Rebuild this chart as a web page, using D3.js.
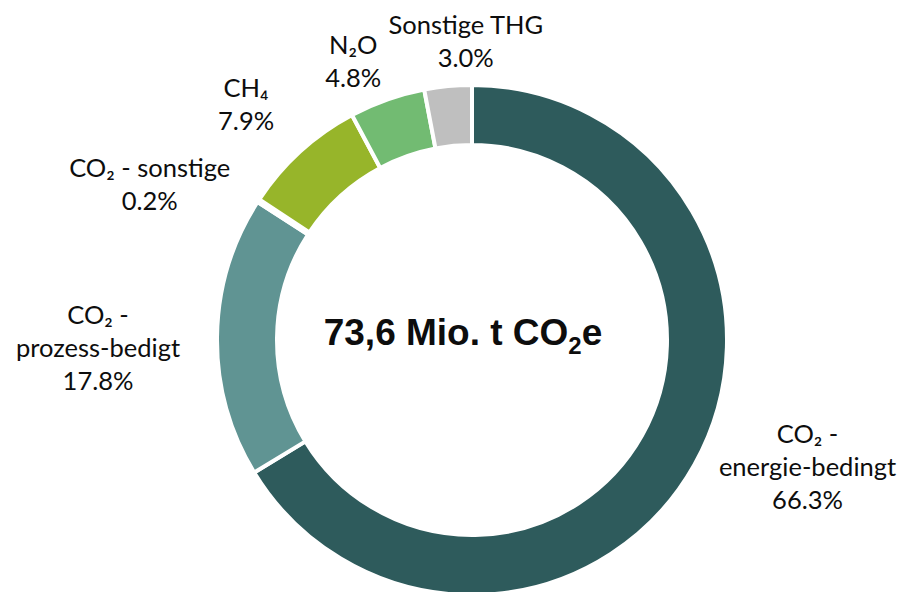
<!DOCTYPE html>
<html>
<head>
<meta charset="utf-8">
<script src="https://cdn.jsdelivr.net/npm/d3@7"></script>
<style>
  body { margin: 0; background: #fff; }
  svg text { fill: #0d0d0d; }
</style>
</head>
<body>
<svg id="chart" width="903" height="592"></svg>
<script>
// shares of total emissions, clockwise from 12 o'clock
var categories = ["CO₂ - energie-bedingt", "CO₂ - prozess-bedigt", "CO₂ - sonstige", "CH₄", "N₂O", "Sonstige THG"];
var shares = [66.3, 17.8, 0.2, 7.9, 4.8, 3.0];
// how each label is broken into lines
var labelLines = [
  ["CO₂ -", "energie-bedingt"],
  ["CO₂ -", "prozess-bedigt"],
  ["CO₂ - sonstige"],
  ["CH₄"],
  ["N₂O"],
  ["Sonstige THG"]
];
var colors = ["#2e5b5c", "#609493", "#8fb03a", "#97b52a", "#72bb72", "#bfbfbf"];

// label nudges off the default spot (mid angle, radius 300)
var labelShift = [[74, -20], [-74, 12], [-71, 8], [-24, -14], [-19, 4], [22, 0]];

var svg = d3.select("#chart");
var cx = 472, cy = 340;
var outerR = 255, innerR = 195;
var lineH = 33;

var data = categories.map(function (c, i) {
  return { name: c, value: shares[i], lines: labelLines[i], color: colors[i], shift: labelShift[i] };
});

var pie = d3.pie()
  .sort(null)
  .value(function (d) { return d.value; });

var arc = d3.arc()
  .innerRadius(innerR)
  .outerRadius(outerR);

var g = svg.append("g")
  .attr("transform", "translate(" + cx + "," + cy + ")");

var arcs = pie(data);

g.selectAll("path")
  .data(arcs)
  .enter()
  .append("path")
  .attr("d", arc)
  .style("fill", function (d) { return d.data.color; })
  .style("stroke", "#fff")
  .style("stroke-width", 4);

//labels: lines of the name plus the percentage
var labels = g.selectAll("g.label")
  .data(arcs)
  .enter()
  .append("g")
  .attr("class", "label")
  .attr("transform", function (d) {
    var a = (d.startAngle + d.endAngle) / 2;
    var x = Math.sin(a) * 300 + d.data.shift[0];
    var y = -Math.cos(a) * 300 + d.data.shift[1];
    return "translate(" + x + "," + y + ")";
  });

labels.each(function (d) {
  var lines = d.data.lines.concat([d3.format(".1f")(d.data.value) + "%"]);
  var first = -(lines.length - 1) * lineH / 2 + 9;
  d3.select(this).selectAll("text")
    .data(lines)
    .enter()
    .append("text")
    .attr("x", 0)
    .attr("y", function (t, i) { return first + i * lineH; })
    .attr("text-anchor", "middle")
    .style("font-family", "Lato, 'Noto Sans', sans-serif")
    .style("font-size", "25.5px")
    .text(function (t) { return t; });
});

//total in the middle
var total = svg.append("text")
  .attr("x", cx - 9)
  .attr("y", 345)
  .attr("text-anchor", "middle")
  .style("font-family", "'Liberation Sans', Arial, sans-serif")
  .style("font-weight", "bold")
  .style("font-size", "37px");
total.append("tspan").text("73,6 Mio. t CO");
total.append("tspan").attr("dy", 9).style("font-size", "24px").text("2");
total.append("tspan").attr("dy", -9).text("e");
</script>
</body>
</html>
